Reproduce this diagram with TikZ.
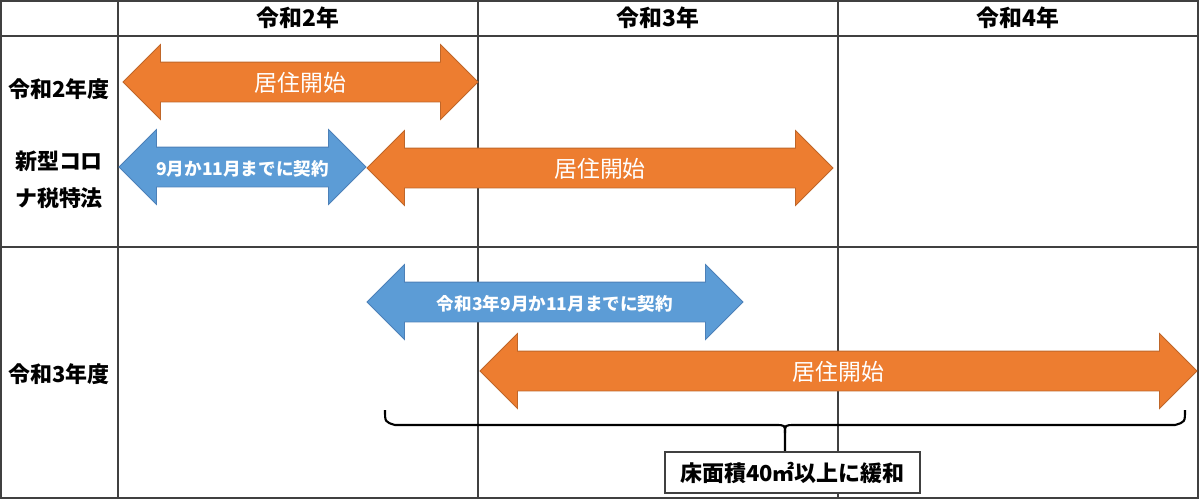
\documentclass[tikz,border=0pt]{standalone}
\usepackage{fontspec}
\setmainfont{Noto Sans CJK JP}
\usepackage{tikz}
\usetikzlibrary{shapes.arrows,positioning,calc}

\begin{document}
\begin{tikzpicture}[
            x=0.02cm, y=-0.02cm,
            grid/.style={draw=colorGrid,line width=0.8pt},
            span/.style={double arrow,double arrow head extend=0.35cm,double arrow tip angle=90,
                inner xsep=0pt,inner ysep=0pt,line width=0.5pt,text=white},
            live/.style={span,fill=colorOrange,draw=colorOrangeLine,text height=0.58cm,text depth=0.20cm,
                font=\fontsize{13}{15}\selectfont},
            deal/.style={span,fill=colorBlue,draw=colorBlueLine,text height=0.56cm,text depth=0.22cm,
                font=\bfseries\fontsize{10}{12}\selectfont},
            head/.style={font=\bfseries\fontsize{12.5}{14}\selectfont},
            bracket/.style={draw=black,line width=1.2pt},
            note/.style={draw=colorGrid,line width=1.2pt,fill=white,minimum width=5.1cm,minimum height=0.82cm,
                font=\bfseries\fontsize{12.5}{14}\selectfont}
        ]

        % Define colors
        \definecolor{colorGrid}{rgb}{0.25,0.25,0.25};
        \definecolor{colorOrange}{rgb}{0.93,0.49,0.19};
        \definecolor{colorOrangeLine}{rgb}{0.75,0.40,0.16};
        \definecolor{colorBlue}{rgb}{0.36,0.61,0.84};
        \definecolor{colorBlueLine}{rgb}{0.30,0.50,0.72};

        \useasboundingbox (0,0) rectangle (1200,501);

        % Draw the table
        \draw[grid] (1,1) rectangle (1198,498);
        \draw[grid] (1,36) -- (1198,36);
        \draw[grid] (1,247) -- (1198,247);
        \foreach \x in {118,478,838}
            \draw[grid] (\x,1) -- (\x,498);

        % Column and row titles
        \node[head,font=\bfseries\fontsize{13}{15}\selectfont] (year2) at (298,18) {令和2年};
        \node[head,font=\bfseries\fontsize{13}{15}\selectfont] (year3) at (658,18) {令和3年};
        \node[head,font=\bfseries\fontsize{13}{15}\selectfont] (year4) at (1018,18) {令和4年};
        \node[head] (rule2) at (59,89) {令和2年度};
        \node[head] (coronaA) at (59,161) {新型コロ};
        \node[head] (coronaB) at (59,198) {ナ税特法};
        \node[head] (rule3) at (59,374) {令和3年度};

        % Draw the periods
        \node[live,minimum height=7.1cm] (live2) at (300.5,82) {居住開始};
        \node[deal,minimum height=4.94cm] (deal2) at (242.5,167) {9月か11月までに契約};
        \node[live,minimum height=9.32cm] (live2b) at (600,168) {居住開始};
        \node[deal,minimum height=7.52cm] (deal3) at (555,302) {令和3年9月か11月までに契約};
        \node[live,minimum height=14.34cm] (live3) at (838.5,371) {居住開始};

        % Brace and note
        \node[note] (floor) at (792.5,472.5) {床面積40㎡以上に緩和};
        \coordinate (braceL) at (385,410);
        \coordinate (braceR) at (1185,410);
        \coordinate (braceM) at (785,433);
        \draw[bracket] (braceL) .. controls (385,422) .. (395,425) -- (775,425)
            .. controls (785,425) .. (braceM) -- (floor.north -| braceM);
        \draw[bracket] (braceR) .. controls (1185,422) .. (1175,425) -- (795,425)
            .. controls (785,425) .. (braceM);

        \end{tikzpicture}
\end{document}
